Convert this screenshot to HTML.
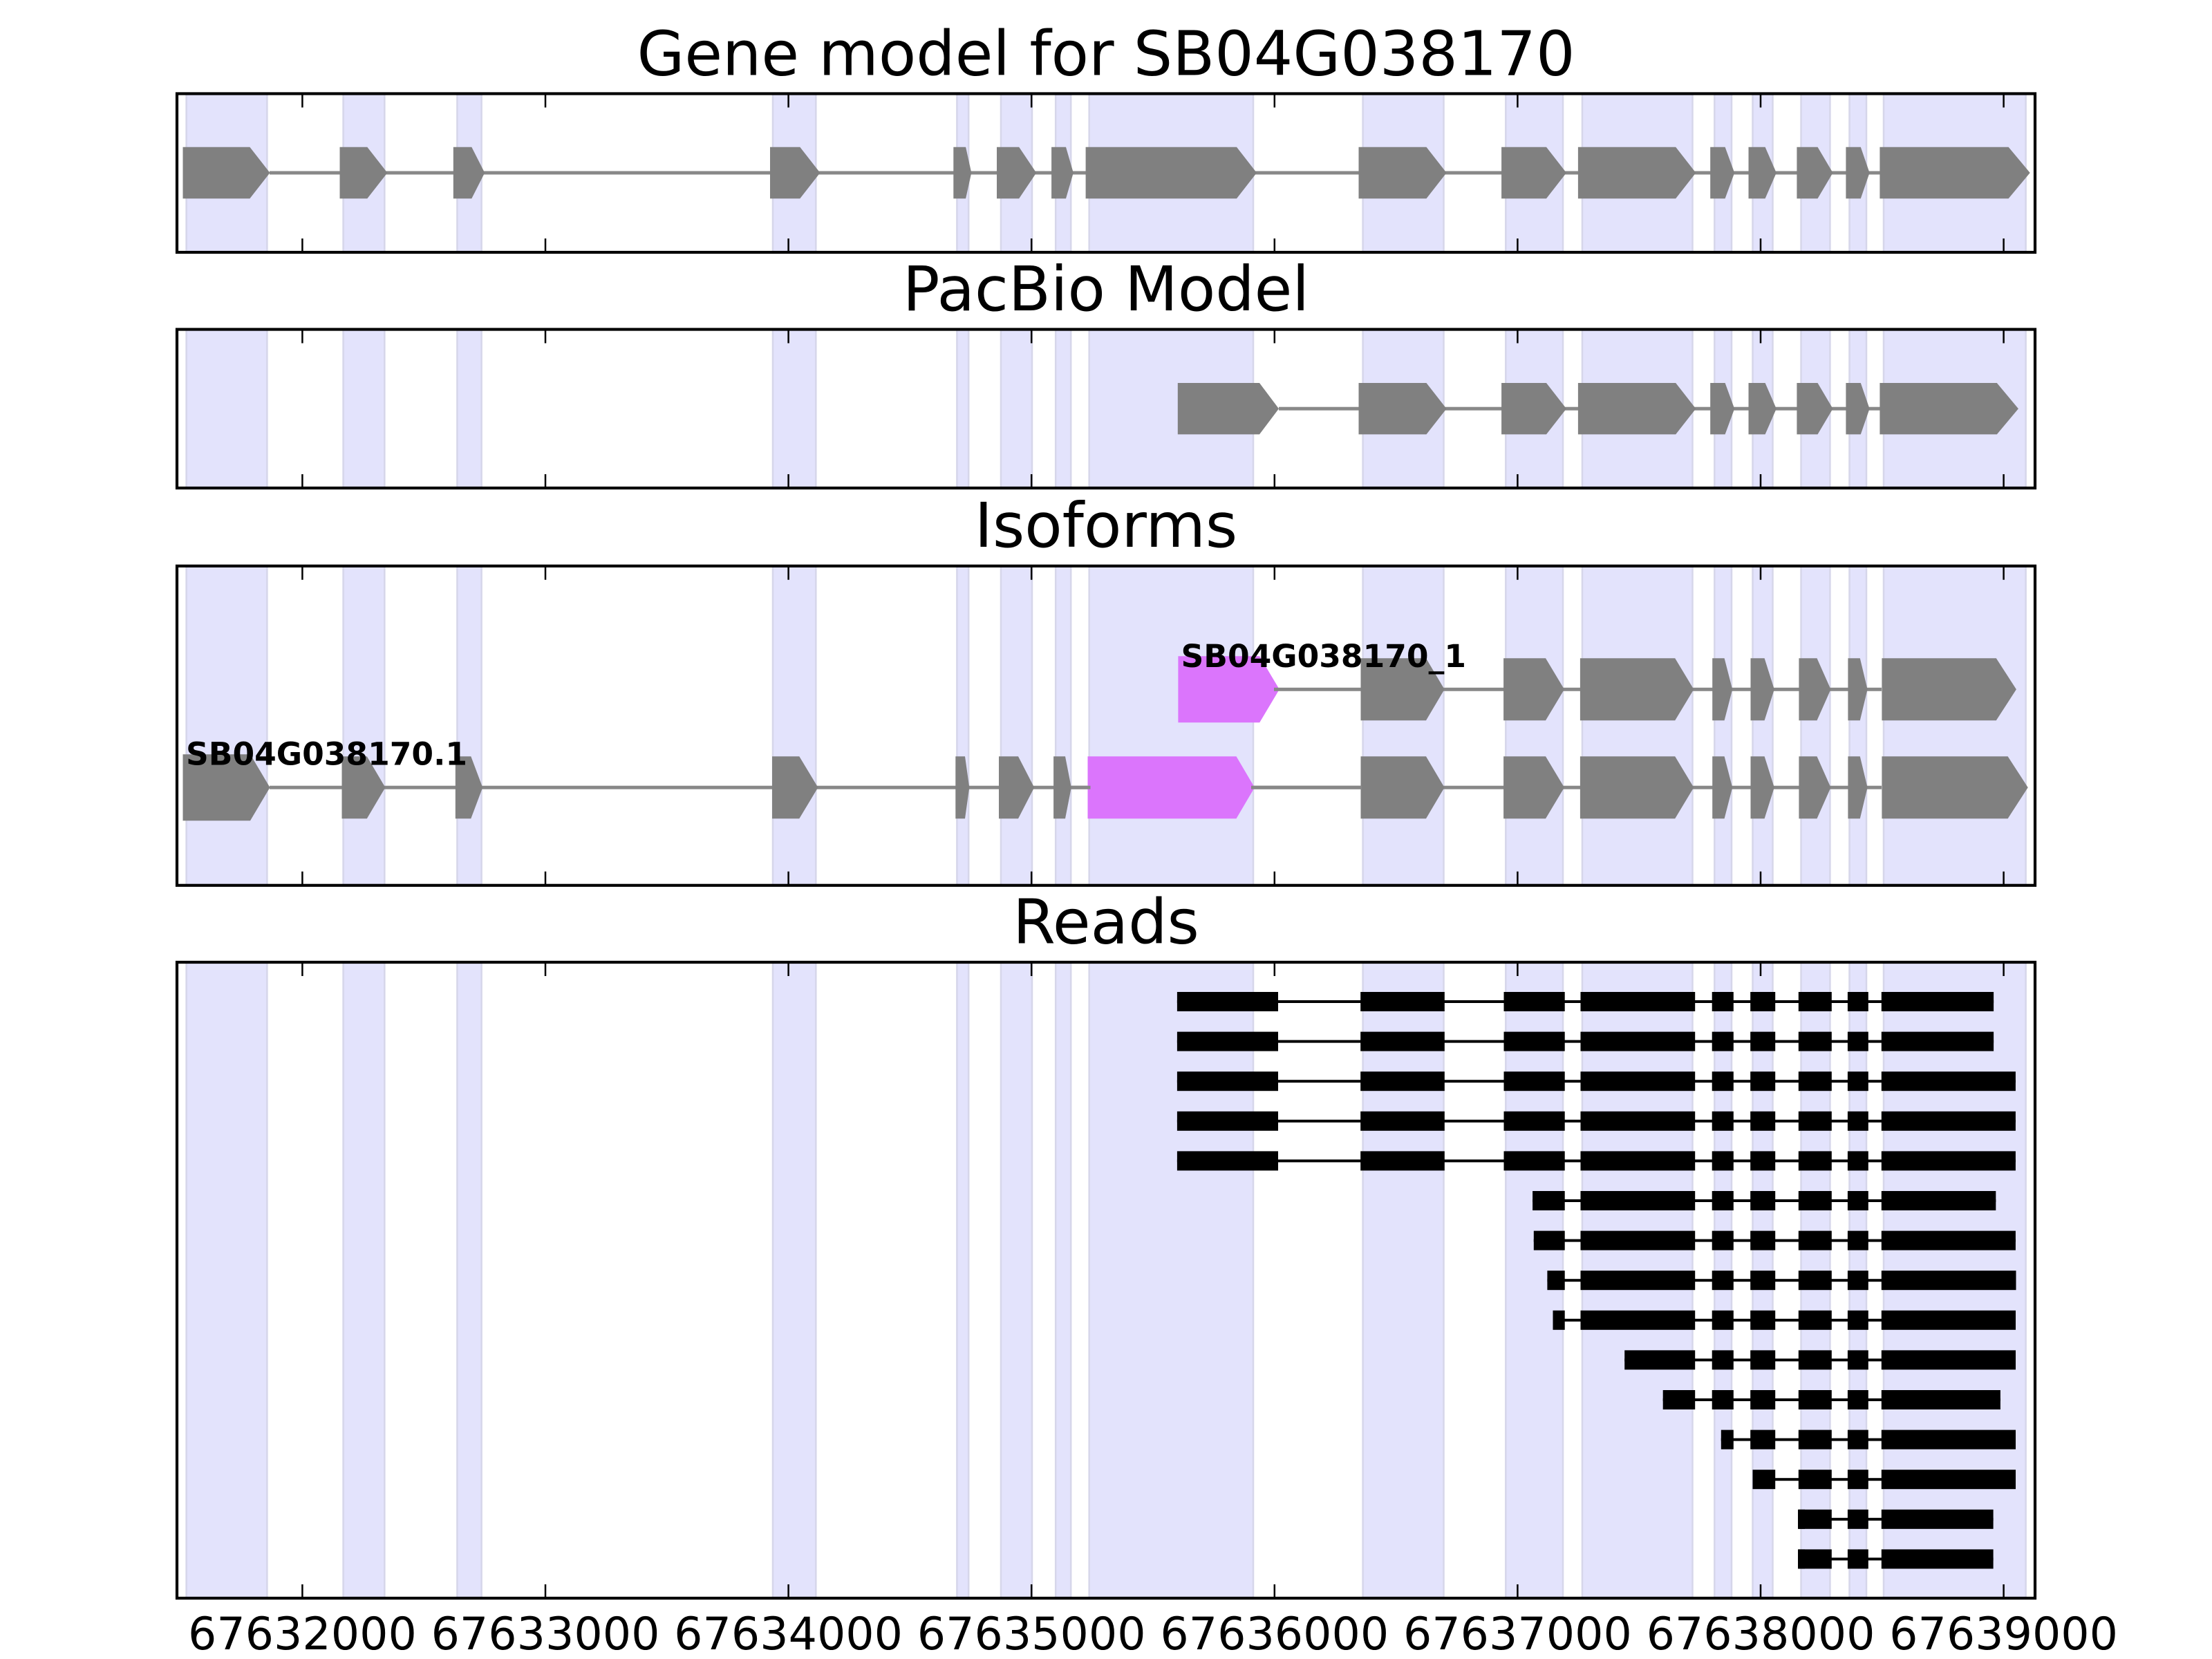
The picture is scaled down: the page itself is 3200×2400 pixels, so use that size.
<!DOCTYPE html>
<html>
<head>
<meta charset="utf-8">
<style>
html,body{margin:0;padding:0;background:#fff;}
svg{display:block;}
text{font-family:"DejaVu Sans","Liberation Sans",sans-serif;}
</style>
</head>
<body>
<svg xmlns="http://www.w3.org/2000/svg" width="3200" height="2400" viewBox="0 0 3200 2400">
<defs>
  <clipPath id="c1"><rect x="256" y="135.5" width="2688" height="229.5"/></clipPath>
  <clipPath id="c2"><rect x="256" y="476.5" width="2688" height="229.5"/></clipPath>
  <clipPath id="c3"><rect x="256" y="818.8" width="2688" height="462"/></clipPath>
  <clipPath id="c4"><rect x="256" y="1392" width="2688" height="920"/></clipPath>
  <g id="bands" fill="#e3e3fc" stroke="#d6d6ea" stroke-width="2.5">
    <rect x="269.6" y="0" width="116.8" height="2400"/>
    <rect x="496.6" y="0" width="59.7" height="2400"/>
    <rect x="661.4" y="0" width="35.2" height="2400"/>
    <rect x="1118" y="0" width="62.3" height="2400"/>
    <rect x="1384.4" y="0" width="16.8" height="2400"/>
    <rect x="1448" y="0" width="45" height="2400"/>
    <rect x="1527.2" y="0" width="22" height="2400"/>
    <rect x="1575.7" y="0" width="237.3" height="2400"/>
    <rect x="1971.6" y="0" width="116.9" height="2400"/>
    <rect x="2178.3" y="0" width="82.7" height="2400"/>
    <rect x="2289" y="0" width="159.5" height="2400"/>
    <rect x="2480.3" y="0" width="24.7" height="2400"/>
    <rect x="2535.5" y="0" width="29" height="2400"/>
    <rect x="2605.5" y="0" width="41.9" height="2400"/>
    <rect x="2675.5" y="0" width="24.5" height="2400"/>
    <rect x="2725" y="0" width="205.6" height="2400"/>
  </g>
  <!-- read block groups, centered at y=0 -->
  <g id="front" fill="#000">
    <rect x="1702.9" y="-14" width="146.1" height="28"/>
    <rect x="1968.2" y="-14" width="121.6" height="28"/>
    <rect x="2175.5" y="-14" width="88.2" height="28"/>
  </g>
  <rect id="m1" x="2286.5" y="-14" width="165.7" height="28" fill="#000"/>
  <rect id="m2" x="2476.7" y="-14" width="31.1" height="28" fill="#000"/>
  <rect id="m3a" x="2532.2" y="-14" width="36" height="28" fill="#000"/>
  <g id="m3b" fill="#000">
    <rect x="2601.8" y="-14" width="48" height="28"/>
    <rect x="2672.9" y="-14" width="29.9" height="28"/>
  </g>
</defs>

<!-- titles -->
<text x="1600" y="108.5" font-size="88.9" text-anchor="middle">Gene model for SB04G038170</text>
<text x="1600" y="449" font-size="88.9" text-anchor="middle">PacBio Model</text>
<text x="1600" y="791" font-size="88.9" text-anchor="middle">Isoforms</text>
<text x="1600" y="1364.5" font-size="88.9" text-anchor="middle">Reads</text>

<!-- bands -->
<use href="#bands" clip-path="url(#c1)"/>
<use href="#bands" clip-path="url(#c2)"/>
<use href="#bands" clip-path="url(#c3)"/>
<use href="#bands" clip-path="url(#c4)"/>

<!-- Panel 1: gene model -->
<rect x="390" y="247.5" width="2330" height="5" fill="#888"/>
<g fill="#808080">
  <polygon points="264.5,212.7 361.4,212.7 390.5,250 361.4,287.3 264.5,287.3"/>
  <polygon points="491.5,212.7 531.3,212.7 560.4,250 531.3,287.3 491.5,287.3"/>
  <polygon points="655.8,212.7 682.3,212.7 701.2,250 682.3,287.3 655.8,287.3"/>
  <polygon points="1114,212.7 1157.3,212.7 1186.4,250 1157.3,287.3 1114,287.3"/>
  <polygon points="1379.3,212.7 1397.1,212.7 1405.3,250 1397.1,287.3 1379.3,287.3"/>
  <polygon points="1442,212.7 1474.2,212.7 1499.2,250 1474.2,287.3 1442,287.3"/>
  <polygon points="1521.1,212.7 1542,212.7 1552.8,250 1542,287.3 1521.1,287.3"/>
  <polygon points="1570.6,212.7 1789,212.7 1818,250 1789,287.3 1570.6,287.3"/>
  <polygon points="1965.5,212.7 2063.5,212.7 2092.6,250 2063.5,287.3 1965.5,287.3"/>
  <polygon points="2172.1,212.7 2237,212.7 2266,250 2237,287.3 2172.1,287.3"/>
  <polygon points="2282.9,212.7 2424.2,212.7 2453.3,250 2424.2,287.3 2282.9,287.3"/>
  <polygon points="2474.2,212.7 2495.6,212.7 2509.2,250 2495.6,287.3 2474.2,287.3"/>
  <polygon points="2529.5,212.7 2553.6,212.7 2569.8,250 2553.6,287.3 2529.5,287.3"/>
  <polygon points="2599.4,212.7 2629.5,212.7 2651.5,250 2629.5,287.3 2599.4,287.3"/>
  <polygon points="2670.4,212.7 2691.8,212.7 2704.6,250 2691.8,287.3 2670.4,287.3"/>
  <polygon points="2719.4,212.7 2905.6,212.7 2936.7,250 2905.6,287.3 2719.4,287.3"/>
</g>

<!-- Panel 2: PacBio -->
<rect x="1850" y="588.7" width="870" height="5" fill="#888"/>
<g fill="#808080">
  <polygon points="1703.8,554 1822,554 1850,591.2 1822,628.4 1703.8,628.4"/>
  <polygon points="1965.5,554 2063.5,554 2092.6,591.2 2063.5,628.4 1965.5,628.4"/>
  <polygon points="2172.1,554 2237,554 2266,591.2 2237,628.4 2172.1,628.4"/>
  <polygon points="2282.9,554 2424.2,554 2453.3,591.2 2424.2,628.4 2282.9,628.4"/>
  <polygon points="2474.2,554 2495.6,554 2509.2,591.2 2495.6,628.4 2474.2,628.4"/>
  <polygon points="2529.5,554 2553.6,554 2569.8,591.2 2553.6,628.4 2529.5,628.4"/>
  <polygon points="2599.4,554 2629.5,554 2651.5,591.2 2629.5,628.4 2599.4,628.4"/>
  <polygon points="2670.4,554 2691.8,554 2704.6,591.2 2691.8,628.4 2670.4,628.4"/>
  <polygon points="2719.4,554 2888.8,554 2919.9,591.2 2888.8,628.4 2719.4,628.4"/>
</g>

<!-- Panel 3: Isoforms -->
<!-- bottom isoform -->
<rect x="390" y="1136.7" width="2332" height="5" fill="#888"/>
<g fill="#808080">
  <polygon points="264.5,1091.2 362,1091.2 390.5,1139.2 362,1187.2 264.5,1187.2"/>
  <polygon points="494.5,1094.2 530.8,1094.2 557.4,1139.2 530.8,1184.2 494.5,1184.2"/>
  <polygon points="658.8,1094.2 681.3,1094.2 698.2,1139.2 681.3,1184.2 658.8,1184.2"/>
  <polygon points="1117,1094.2 1156.3,1094.2 1183.4,1139.2 1156.3,1184.2 1117,1184.2"/>
  <polygon points="1382.3,1094.2 1396,1094.2 1402.3,1139.2 1396,1184.2 1382.3,1184.2"/>
  <polygon points="1445,1094.2 1473,1094.2 1496.2,1139.2 1473,1184.2 1445,1184.2"/>
  <polygon points="1524.1,1094.2 1541,1094.2 1549.8,1139.2 1541,1184.2 1524.1,1184.2"/>
  <polygon points="1968.5,1094.2 2063,1094.2 2089.6,1139.2 2063,1184.2 1968.5,1184.2"/>
  <polygon points="2175.1,1094.2 2236,1094.2 2263,1139.2 2236,1184.2 2175.1,1184.2"/>
  <polygon points="2285.9,1094.2 2423.2,1094.2 2450.3,1139.2 2423.2,1184.2 2285.9,1184.2"/>
  <polygon points="2477.2,1094.2 2494.6,1094.2 2506.2,1139.2 2494.6,1184.2 2477.2,1184.2"/>
  <polygon points="2532.5,1094.2 2552.6,1094.2 2566.8,1139.2 2552.6,1184.2 2532.5,1184.2"/>
  <polygon points="2602.4,1094.2 2628.5,1094.2 2648.5,1139.2 2628.5,1184.2 2602.4,1184.2"/>
  <polygon points="2673.4,1094.2 2690.8,1094.2 2701.6,1139.2 2690.8,1184.2 2673.4,1184.2"/>
  <polygon points="2722.4,1094.2 2904.6,1094.2 2933.7,1139.2 2904.6,1184.2 2722.4,1184.2"/>
</g>
<polygon points="1573.5,1094.2 1788.5,1094.2 1815,1139.2 1788.5,1184.2 1573.5,1184.2" fill="#db75fc"/>
<rect x="1550" y="1136.7" width="27.5" height="5" fill="#888"/>
<rect x="1810" y="1136.7" width="160" height="5" fill="#888"/>

<!-- top isoform -->
<polygon points="1704.4,949.3 1822.2,949.3 1850.8,997.3 1822.2,1045.3 1704.4,1045.3" fill="#db75fc"/>
<rect x="1843" y="994.8" width="879" height="5" fill="#888"/>
<g fill="#808080">
  <polygon points="1968.5,952.3 2063,952.3 2089.6,997.3 2063,1042.3 1968.5,1042.3"/>
  <polygon points="2175.1,952.3 2236,952.3 2263,997.3 2236,1042.3 2175.1,1042.3"/>
  <polygon points="2285.9,952.3 2423.2,952.3 2450.3,997.3 2423.2,1042.3 2285.9,1042.3"/>
  <polygon points="2477.2,952.3 2494.6,952.3 2506.2,997.3 2494.6,1042.3 2477.2,1042.3"/>
  <polygon points="2532.5,952.3 2552.6,952.3 2566.8,997.3 2552.6,1042.3 2532.5,1042.3"/>
  <polygon points="2602.4,952.3 2628.5,952.3 2648.5,997.3 2628.5,1042.3 2602.4,1042.3"/>
  <polygon points="2673.4,952.3 2690.8,952.3 2701.6,997.3 2690.8,1042.3 2673.4,1042.3"/>
  <polygon points="2722.4,952.3 2887.8,952.3 2916.9,997.3 2887.8,1042.3 2722.4,1042.3"/>
</g>
<text x="269" y="1106.5" font-size="45.5" font-weight="bold">SB04G038170.1</text>
<text x="1708.5" y="964.8" font-size="45.5" font-weight="bold">SB04G038170_1</text>

<!-- Panel 4: Reads -->
<g fill="#000">
  <!-- row 0 -->
  <rect x="1702.9" y="1447" width="1181.2" height="4"/>
  <use href="#front" y="1449"/><use href="#m1" y="1449"/><use href="#m2" y="1449"/><use href="#m3a" y="1449"/><use href="#m3b" y="1449"/>
  <rect x="2721.8" y="1435" width="162.3" height="28"/>
  <!-- row 1 -->
  <rect x="1702.9" y="1504.6" width="1181.2" height="4"/>
  <use href="#front" y="1506.6"/><use href="#m1" y="1506.6"/><use href="#m2" y="1506.6"/><use href="#m3a" y="1506.6"/><use href="#m3b" y="1506.6"/>
  <rect x="2721.8" y="1492.6" width="162.3" height="28"/>
  <!-- row 2 -->
  <rect x="1702.9" y="1562.2" width="1213" height="4"/>
  <use href="#front" y="1564.2"/><use href="#m1" y="1564.2"/><use href="#m2" y="1564.2"/><use href="#m3a" y="1564.2"/><use href="#m3b" y="1564.2"/>
  <rect x="2721.8" y="1550.2" width="194.1" height="28"/>
  <!-- row 3 -->
  <rect x="1702.9" y="1619.8" width="1213" height="4"/>
  <use href="#front" y="1621.8"/><use href="#m1" y="1621.8"/><use href="#m2" y="1621.8"/><use href="#m3a" y="1621.8"/><use href="#m3b" y="1621.8"/>
  <rect x="2721.8" y="1607.8" width="194.1" height="28"/>
  <!-- row 4 -->
  <rect x="1702.9" y="1677.4" width="1213" height="4"/>
  <use href="#front" y="1679.4"/><use href="#m1" y="1679.4"/><use href="#m2" y="1679.4"/><use href="#m3a" y="1679.4"/><use href="#m3b" y="1679.4"/>
  <rect x="2721.8" y="1665.4" width="194.1" height="28"/>
  <!-- row 5 -->
  <rect x="2217.1" y="1735" width="670.2" height="4"/>
  <rect x="2217.1" y="1723" width="46.6" height="28"/>
  <use href="#m1" y="1737"/><use href="#m2" y="1737"/><use href="#m3a" y="1737"/><use href="#m3b" y="1737"/>
  <rect x="2721.8" y="1723" width="165.5" height="28"/>
  <!-- row 6 -->
  <rect x="2218.8" y="1792.6" width="697.1" height="4"/>
  <rect x="2218.8" y="1780.6" width="44.9" height="28"/>
  <use href="#m1" y="1794.6"/><use href="#m2" y="1794.6"/><use href="#m3a" y="1794.6"/><use href="#m3b" y="1794.6"/>
  <rect x="2721.8" y="1780.6" width="194.1" height="28"/>
  <!-- row 7 -->
  <rect x="2238.4" y="1850.2" width="678.1" height="4"/>
  <rect x="2238.4" y="1838.2" width="25.3" height="28"/>
  <use href="#m1" y="1852.2"/><use href="#m2" y="1852.2"/><use href="#m3a" y="1852.2"/><use href="#m3b" y="1852.2"/>
  <rect x="2721.8" y="1838.2" width="194.7" height="28"/>
  <!-- row 8 -->
  <rect x="2246.5" y="1907.8" width="669.5" height="4"/>
  <rect x="2246.5" y="1895.8" width="17.2" height="28"/>
  <use href="#m1" y="1909.8"/><use href="#m2" y="1909.8"/><use href="#m3a" y="1909.8"/><use href="#m3b" y="1909.8"/>
  <rect x="2721.8" y="1895.8" width="194.2" height="28"/>
  <!-- row 9 -->
  <rect x="2350.2" y="1965.4" width="565.8" height="4"/>
  <rect x="2350.2" y="1953.4" width="102" height="28"/>
  <use href="#m2" y="1967.4"/><use href="#m3a" y="1967.4"/><use href="#m3b" y="1967.4"/>
  <rect x="2721.8" y="1953.4" width="194.2" height="28"/>
  <!-- row 10 -->
  <rect x="2405.7" y="2023" width="488.2" height="4"/>
  <rect x="2405.7" y="2011" width="46.5" height="28"/>
  <use href="#m2" y="2025"/><use href="#m3a" y="2025"/><use href="#m3b" y="2025"/>
  <rect x="2721.8" y="2011" width="172.1" height="28"/>
  <!-- row 11 -->
  <rect x="2489.8" y="2080.6" width="426.2" height="4"/>
  <rect x="2489.8" y="2068.6" width="18" height="28"/>
  <use href="#m3a" y="2082.6"/><use href="#m3b" y="2082.6"/>
  <rect x="2721.8" y="2068.6" width="194.2" height="28"/>
  <!-- row 12 -->
  <rect x="2535.5" y="2138.2" width="380.5" height="4"/>
  <rect x="2535.5" y="2126.2" width="32.7" height="28"/>
  <use href="#m3b" y="2140.2"/>
  <rect x="2721.8" y="2126.2" width="194.2" height="28"/>
  <!-- row 13 -->
  <rect x="2601" y="2195.8" width="282.6" height="4"/>
  <use href="#m3b" y="2197.8"/>
  <rect x="2601" y="2183.8" width="10" height="28"/>
  <rect x="2721.8" y="2183.8" width="161.8" height="28"/>
  <!-- row 14 -->
  <rect x="2601" y="2253.4" width="282.6" height="4"/>
  <use href="#m3b" y="2255.4"/>
  <rect x="2601" y="2241.4" width="10" height="28"/>
  <rect x="2721.8" y="2241.4" width="161.8" height="28"/>
</g>

<!-- ticks -->
<g stroke="#000" stroke-width="2.5">
  <path d="M437.4 135.5v20M789 135.5v20M1140.6 135.5v20M1492.2 135.5v20M1843.8 135.5v20M2195.4 135.5v20M2547 135.5v20M2898.6 135.5v20
           M437.4 365v-20M789 365v-20M1140.6 365v-20M1492.2 365v-20M1843.8 365v-20M2195.4 365v-20M2547 365v-20M2898.6 365v-20"/>
  <path d="M437.4 476.5v20M789 476.5v20M1140.6 476.5v20M1492.2 476.5v20M1843.8 476.5v20M2195.4 476.5v20M2547 476.5v20M2898.6 476.5v20
           M437.4 706v-20M789 706v-20M1140.6 706v-20M1492.2 706v-20M1843.8 706v-20M2195.4 706v-20M2547 706v-20M2898.6 706v-20"/>
  <path d="M437.4 818.8v20M789 818.8v20M1140.6 818.8v20M1492.2 818.8v20M1843.8 818.8v20M2195.4 818.8v20M2547 818.8v20M2898.6 818.8v20
           M437.4 1280.8v-20M789 1280.8v-20M1140.6 1280.8v-20M1492.2 1280.8v-20M1843.8 1280.8v-20M2195.4 1280.8v-20M2547 1280.8v-20M2898.6 1280.8v-20"/>
  <path d="M437.4 1392v20M789 1392v20M1140.6 1392v20M1492.2 1392v20M1843.8 1392v20M2195.4 1392v20M2547 1392v20M2898.6 1392v20
           M437.4 2312v-20M789 2312v-20M1140.6 2312v-20M1492.2 2312v-20M1843.8 2312v-20M2195.4 2312v-20M2547 2312v-20M2898.6 2312v-20"/>
</g>

<!-- spines -->
<g fill="none" stroke="#000" stroke-width="4.2">
  <rect x="256" y="135.5" width="2688" height="229.5"/>
  <rect x="256" y="476.5" width="2688" height="229.5"/>
  <rect x="256" y="818.8" width="2688" height="462"/>
  <rect x="256" y="1392" width="2688" height="920"/>
</g>

<!-- x tick labels -->
<g font-size="65" text-anchor="middle">
  <text x="437.4" y="2386">67632000</text>
  <text x="789" y="2386">67633000</text>
  <text x="1140.6" y="2386">67634000</text>
  <text x="1492.2" y="2386">67635000</text>
  <text x="1843.8" y="2386">67636000</text>
  <text x="2195.4" y="2386">67637000</text>
  <text x="2547" y="2386">67638000</text>
  <text x="2898.6" y="2386">67639000</text>
</g>
</svg>
</body>
</html>
